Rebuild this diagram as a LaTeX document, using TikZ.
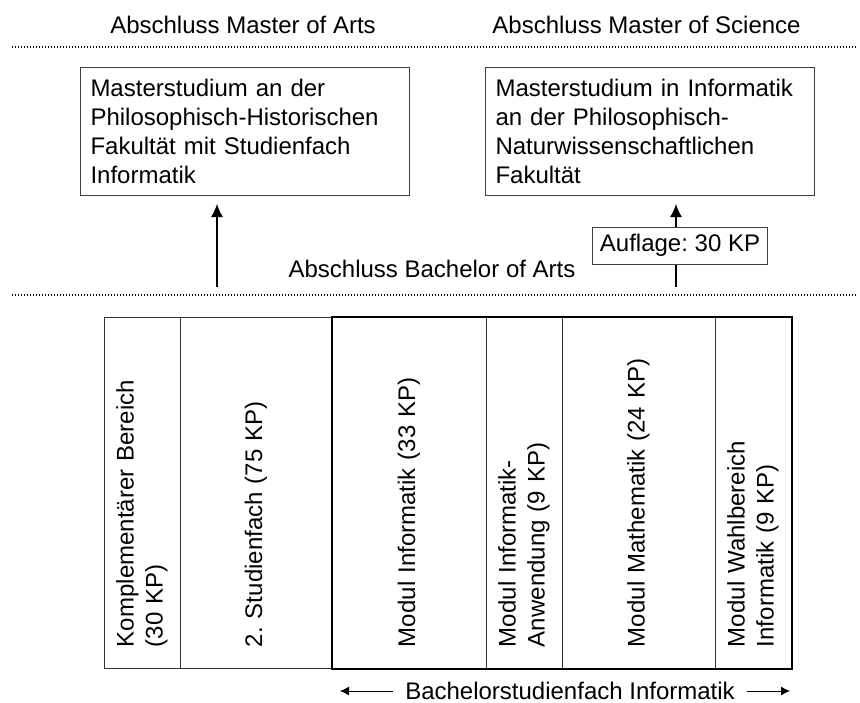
\documentclass[tikz,border=0pt]{standalone}
\usepackage{fontspec}
\setmainfont{Liberation Sans}
\frenchspacing
\usetikzlibrary{arrows.meta}

\begin{document}
\begin{tikzpicture}[x=0.5pt, y=-0.5pt,
  every node/.style={font=\fontsize{12pt}{14.5pt}\selectfont},
  master box/.style={draw=black!75, line width=0.5pt, text width=154.5pt, inner xsep=5pt, minimum height=64pt, align=left, anchor=north west},
  col/.style={draw=black!80, line width=0.5pt, rotate=90, text width=154.5pt, inner xsep=10.5pt, minimum height=#1, align=left},
  up arrow/.style={-{Latex[length=6.5pt,width=6pt]}, line width=0.6pt, shorten >=4pt},
  side arrow/.style={-{Latex[length=4.5pt,width=4.5pt]}, line width=0.5pt},
  level line/.style={line width=0.7pt, dash pattern=on 0.5pt off 1pt}]
\useasboundingbox (0,0) rectangle (860,702);

% Abschluesse oben
\node[anchor=base] (tma) at (243,33) {Abschluss Master of Arts};
\node[anchor=base] (tms) at (646.5,33) {Abschluss Master of Science};
\draw[level line] (12,47) -- (858,47);

\node[master box] (ma) at (80,67) {Masterstudium an der\\Philosophisch-Historischen\\Fakultät mit Studienfach\\Informatik};
\node[master box] (ms) at (485,67) {Masterstudium in Informatik\\an der Philosophisch-\\Naturwissenschaftlichen\\Fakultät};

\node[draw=black!75, line width=0.5pt, minimum height=18.5pt, inner xsep=3.75pt] (auflage) at (680,245.5) {Auflage: 30 KP};
\node[anchor=base] (tba) at (432,277) {Abschluss Bachelor of Arts};
\draw[level line] (12,295) -- (858,295);

\coordinate (a1) at (217,287);
\coordinate (a2) at (676,287);
\draw[up arrow] (a1) -- (a1 |- ma.south);
\draw[line width=0.6pt] (a2) -- (a2 |- auflage.south);
\draw[up arrow] (a2 |- auflage.north) -- (a2 |- ms.south);

% Bachelorstudium
\node[col=38pt] (c1) at (142,492.5) {Komplementärer Bereich\\(30 KP)};
\node[col=76pt] (c2) at (256,492.5) {2. Studienfach (75 KP)};
\node[col=77pt] (c3) at (409,492.5) {Modul Informatik (33 KP)};
\node[col=38pt] (c4) at (524,492.5) {Modul Informatik-\\Anwendung (9 KP)};
\node[col=76.5pt] (c5) at (638.5,492.5) {Modul Mathematik (24 KP)};
\node[col=38pt] (c6) at (753,492.5) {Modul Wahlbereich\\Informatik (9 KP)};
\draw[line width=1pt] (c3.north east) rectangle (c6.south west);

\node[anchor=base, inner xsep=6pt, inner ysep=0pt] (bsc) at (570,699) {Bachelorstudienfach Informatik};
\coordinate (bl) at (340,691);
\coordinate (br) at (790,691);
\draw[side arrow] (bsc.west |- bl) -- (bl);
\draw[side arrow] (bsc.east |- br) -- (br);
\end{tikzpicture}
\end{document}
